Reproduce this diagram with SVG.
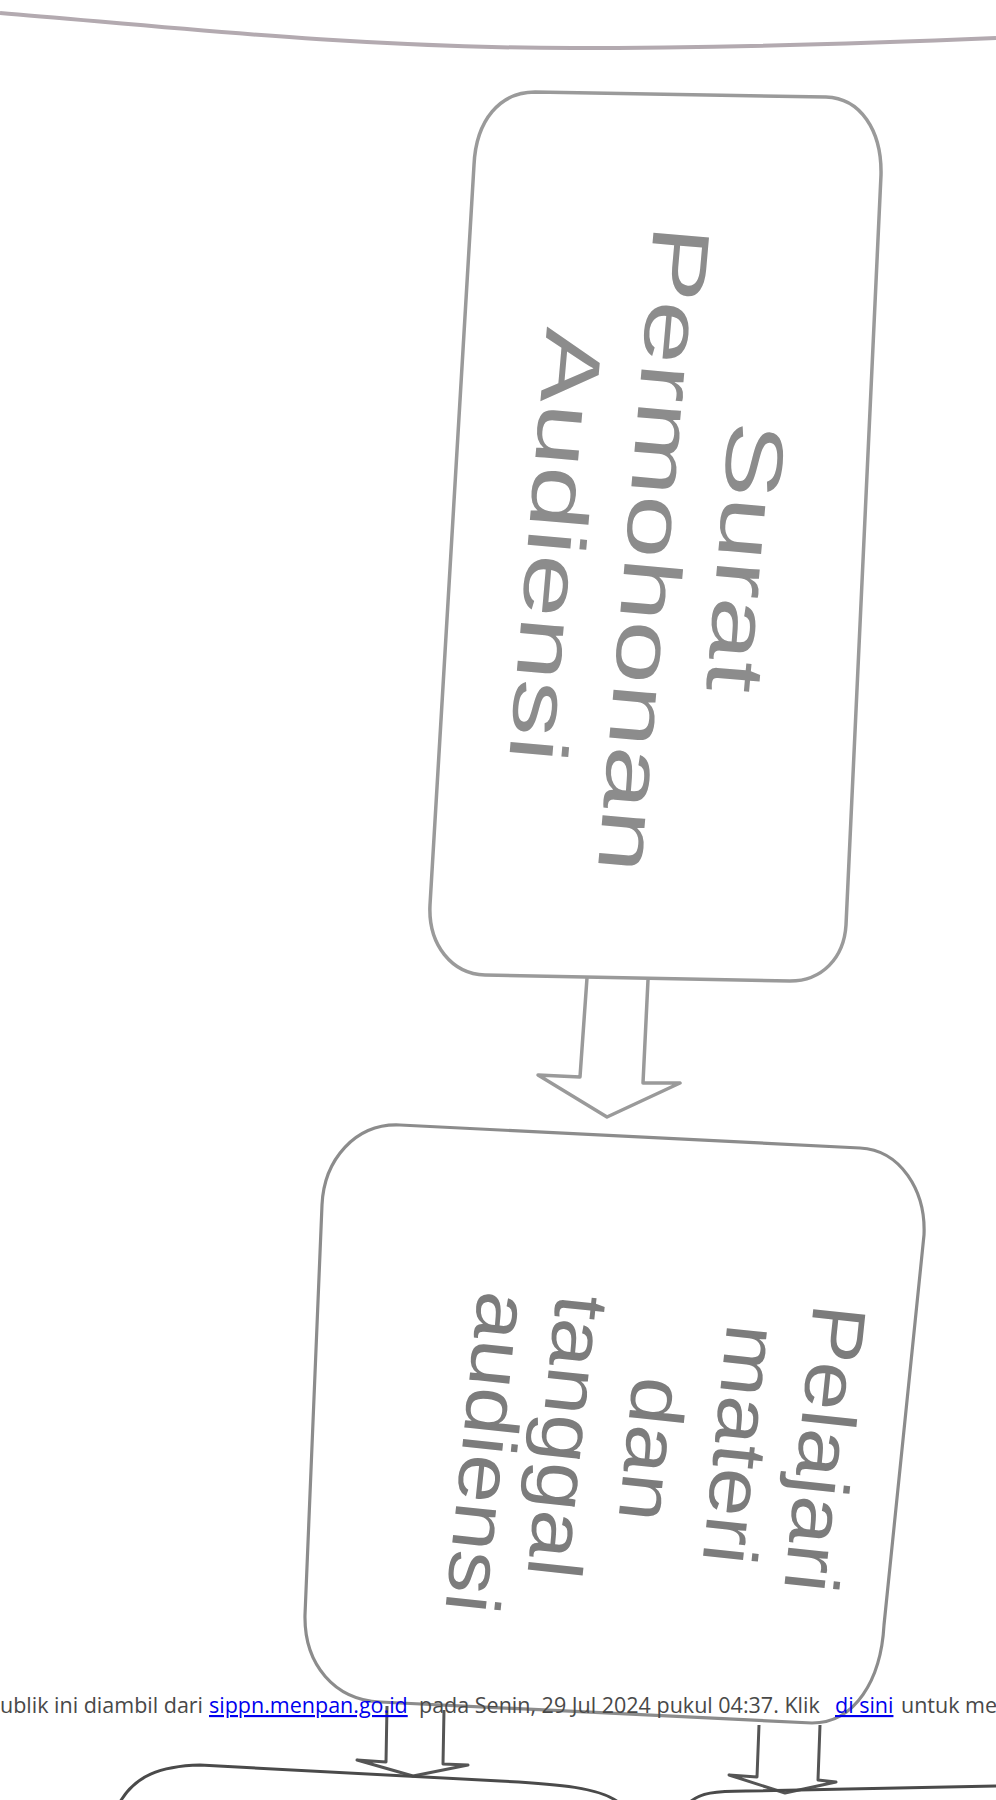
<svg xmlns="http://www.w3.org/2000/svg" width="996" height="1800" viewBox="0 0 996 1800">
  <style>
    .box1 { fill: #ffffff; stroke: #9a9a9a; stroke-width: 3.5; }
    .box2 { fill: #ffffff; stroke: #8c8c8c; stroke-width: 3.2; }
    .box3 { fill: none; stroke: #4a4a4a; stroke-width: 3; }
    .arr1 { fill: #ffffff; stroke: #9a9a9a; stroke-width: 3.5; stroke-linejoin: round; }
    .arr2 { fill: #ffffff; stroke: #555555; stroke-width: 3; stroke-linejoin: round; }
    .t1 { font-family: "Liberation Sans", Arial, Helvetica, sans-serif; font-size: 81px; fill: #8c8c8c; text-anchor: middle; }
    .t2 { font-family: "Liberation Sans", Arial, Helvetica, sans-serif; font-size: 76px; fill: #7c7c7c; text-anchor: middle; }
    .foot { font-family: "Open Sans", "Noto Sans", sans-serif; font-size: 21.5px; fill: #484848; }
    .link { fill: #0000ee; text-decoration: underline; }
  </style>
  <rect x="0" y="0" width="996" height="1800" fill="#ffffff"/>

  <g id="page-edge">
    <path d="M 0,13 C 150,25 350,48 572,48 C 750,48 900,42 996,38" fill="none" stroke="#b3aab0" stroke-width="4"/>
  </g>

  <g id="connectors">
    <path class="arr1" d="M 587,978 L 580,1077 L 538,1075 L 607,1117 L 680,1083 L 643,1083 L 648,980"/>
    <path class="arr2" d="M 387,1706 L 386,1762 L 357,1760 L 413,1776 L 468,1765 L 443,1764 L 444,1710"/>
    <path class="arr2" d="M 759,1725 L 757,1777 L 729,1775 L 785,1793 L 836,1782 L 818,1780 L 820,1725"/>
  </g>

  <g id="node-surat-permohonan">
    <path class="box1" d="M 535,92 L 826,97 C 860,98 882,130 881,175 L 846,925 C 844,958 822,981 790,981 L 485,975 C 452,974 428,945 430,905 L 474,165 C 476,120 500,92 535,92 Z"/>
    <text class="t1" transform="translate(718,555) rotate(95) scale(1.4,1)">Surat</text>
    <text class="t1" transform="translate(626,547) rotate(95) scale(1.4,1)">Permohonan</text>
    <text class="t1" transform="translate(528,543) rotate(95) scale(1.4,1)">Audiensi</text>
  </g>

  <g id="node-pelajari-materi">
    <path class="box2" d="M 400,1125 L 860,1148 C 900,1150 926,1190 924,1235 L 884,1625 C 881,1680 855,1723 812,1723 L 380,1702 C 335,1700 304,1665 305,1615 L 322,1205 C 324,1160 355,1123 400,1125 Z"/>
    <text class="t2" transform="translate(799,1446) rotate(96) scale(1.14,1)">Pelajari</text>
    <text class="t2" transform="translate(715,1442) rotate(96) scale(1.14,1)">materi</text>
    <text class="t2" transform="translate(626,1447) rotate(96) scale(1.14,1)">dan</text>
    <text class="t2" transform="translate(542,1434) rotate(96) scale(1.14,1)">tanggal</text>
    <text class="t2" transform="translate(462,1450) rotate(96) scale(1.14,1)">audiensi</text>
  </g>

  <g id="node-next-left">
    <path class="box3" d="M 120,1802 C 135,1776 160,1766 200,1765 L 500,1781 C 560,1784 600,1788 618,1802"/>
  </g>

  <g id="node-next-right">
    <path class="box3" d="M 690,1802 C 700,1793 715,1791 746,1791 L 996,1786"/>
  </g>

  <g id="footer-note">
    <text class="foot" y="1713">
      <tspan x="0">ublik ini diambil dari</tspan>
      <tspan x="209" class="link">sippn.menpan.go.id</tspan>
      <tspan x="419">pada Senin, 29 Jul 2024 pukul 04:37. Klik</tspan>
      <tspan x="835" class="link">di sini</tspan>
      <tspan x="901">untuk me</tspan>
    </text>
  </g>
</svg>
